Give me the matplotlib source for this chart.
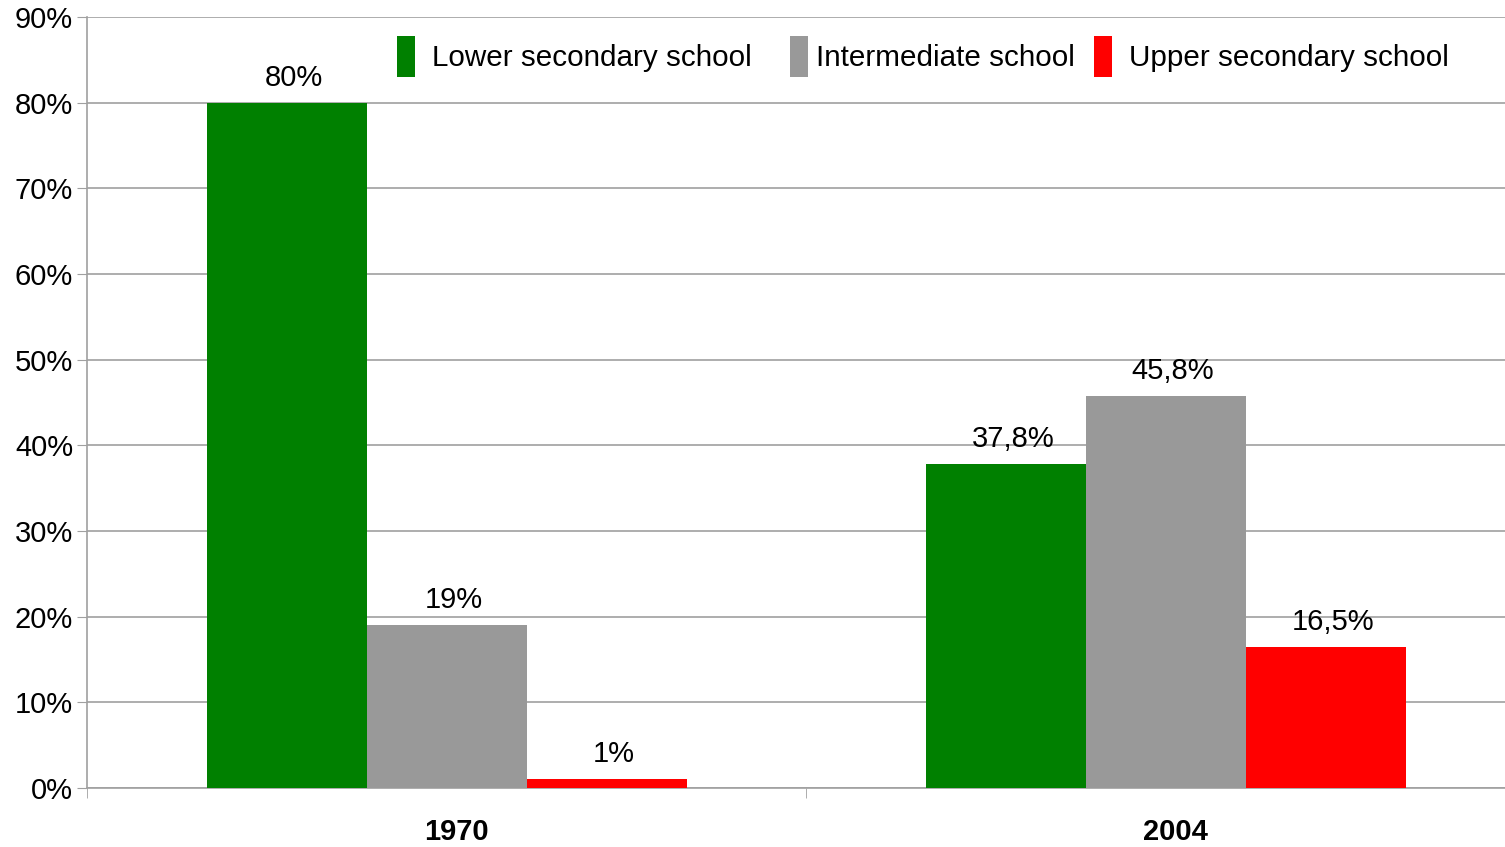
import matplotlib.pyplot as plt
from matplotlib.ticker import FixedLocator, PercentFormatter, NullFormatter

years = ["1970", "2004"]
series = ["Lower secondary school", "Intermediate school", "Upper secondary school"]
lower = [80, 37.8]
intermediate = [19, 45.8]
upper = [1, 16.5]
colors = ["#008000", "#999999", "#ff0000"]

plt.rcParams["font.family"] = ["Liberation Sans", "DejaVu Sans"]

fig = plt.figure(figsize=(15.05, 8.47), dpi=100)
ax = fig.add_axes([87 / 1505, 59 / 847, 1 - 87 / 1505, 771 / 847])

width = 0.2225
x = list(range(len(years)))
for i, (name, vals) in enumerate(zip(series, [lower, intermediate, upper])):
    pos = [p + (i - 1) * width for p in x]
    ax.bar(pos, vals, width=width, color=colors[i], label=name, zorder=3)
    # value labels, comma decimals like the original
    for p, v in zip(pos, vals):
        ax.annotate(("%g" % v).replace(".", ",") + "%", (p, v), xytext=(5, 8),
                    textcoords="offset points", ha="center", va="bottom", fontsize=21)

ax.set_ylim(0, 90)
ax.set_xlim(-0.5, 1.471)
ax.set_yticks(range(0, 91, 10))
ax.yaxis.set_major_formatter(PercentFormatter(decimals=0))
ax.grid(axis="y", color="#a0a0a0", linewidth=1.2, zorder=0)
ax.tick_params(axis="y", labelsize=21, length=7, color="#a0a0a0", pad=3)

# category labels, drawn as text slightly right of the group centre
ax.set_xticks(x)
ax.xaxis.set_major_formatter(NullFormatter())
ax.tick_params(axis="x", which="major", length=0)
for p, yr in zip(x, years):
    ax.annotate(yr, (p, 0), xytext=(7, -32), textcoords="offset points",
                ha="center", va="center", fontsize=21, fontweight="bold",
                annotation_clip=False)
ax.xaxis.set_minor_locator(FixedLocator([-0.5, 0.5, 1.5]))
ax.tick_params(axis="x", which="minor", length=7, color="#a0a0a0")

for s in ["top", "right"]:
    ax.spines[s].set_visible(False)
for s in ["left", "bottom"]:
    ax.spines[s].set_color("#a0a0a0")
    ax.spines[s].set_linewidth(1.2)

# the original legend has uneven spacing, so one legend per entry
handles, names = ax.get_legend_handles_labels()
for h, n, left, gap in zip(handles, names, [397, 790, 1094], [0.55, 0.25, 0.55]):
    fig.legend([h], [n], loc="upper left", bbox_to_anchor=(left / 1505, 1 - 36 / 847),
               frameon=False, fontsize=21.3, borderpad=0, borderaxespad=0,
               handlelength=0.62, handleheight=1.75, handletextpad=gap)

fig.savefig("out.png", dpi=100)
